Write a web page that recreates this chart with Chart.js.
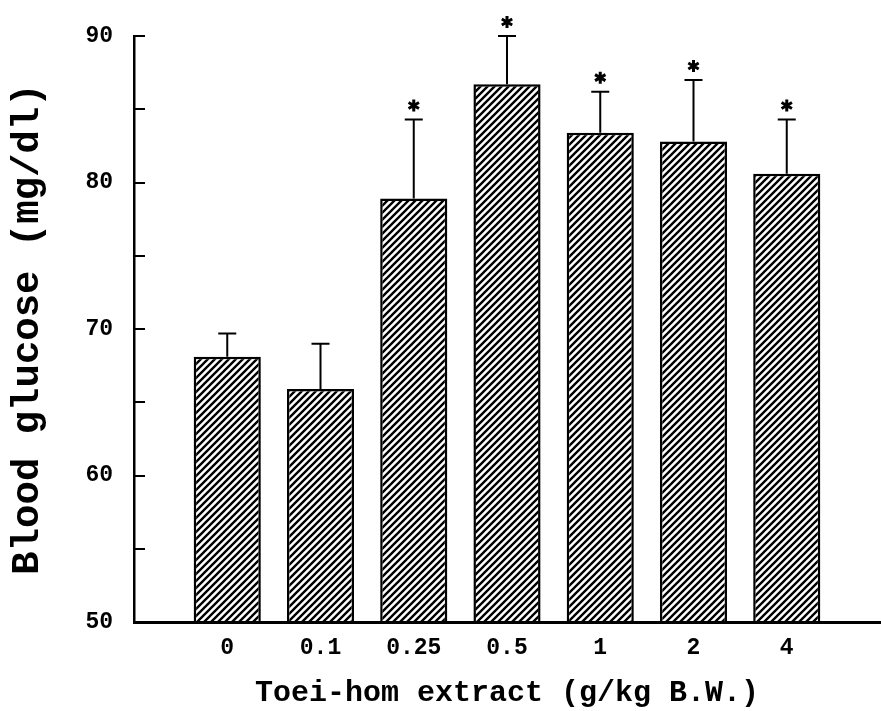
<!DOCTYPE html>
<html>
<head>
<meta charset="utf-8">
<script src="https://cdn.jsdelivr.net/npm/chart.js@4/dist/chart.umd.min.js"></script>
<style>
  html, body { margin: 0; padding: 0; background: #fff; }
  #wrap { width: 881px; height: 711px; }
</style>
</head>
<body>
<div id="wrap"><canvas id="glucose-chart" width="881" height="711"></canvas></div>
<script>
'use strict';

var doses = ['0', '0.1', '0.25', '0.5', '1', '2', '4'];
var glucose = [68.1, 65.9, 78.9, 86.7, 83.4, 82.8, 80.6];
var sem = [1.6, 3.1, 5.4, 3.3, 2.8, 4.2, 3.7];
var marks = ['', '', '*', '*', '*', '*', '*'];
var yMin = 50, yMax = 90;

var MONO = '"Liberation Mono", "DejaVu Sans Mono", monospace';

var hatch = (function() {
    var c = document.createElement('canvas');
    c.width = 7; c.height = 7;
    var g = c.getContext('2d');
    g.fillStyle = '#fff';
    g.fillRect(0, 0, 7, 7);
    g.strokeStyle = '#000';
    g.lineWidth = 2.4;
    g.beginPath();
    g.moveTo(-1, 8); g.lineTo(8, -1);
    g.moveTo(-1, 1); g.lineTo(1, -1);
    g.moveTo(6, 8); g.lineTo(8, 6);
    g.stroke();
    return g.createPattern(c, 'repeat');
})();

function $each(arr, fn) {
    for (var i = 0; i < arr.length; i++) fn(i, arr[i]);
}

// error bars (upper half only) with asterisks above
var errorBars = {
    id: 'errorBars',
    afterDatasetsDraw: function(chart) {
        var ctx = chart.ctx;
        var xs = chart.scales.x, ys = chart.scales.y;
        ctx.save();
        ctx.strokeStyle = '#000';
        ctx.lineWidth = 2;
        $each(glucose, function(i, v) {
            var x = xs.getPixelForValue(i);
            var y0 = ys.getPixelForValue(v);
            var y1 = ys.getPixelForValue(v + sem[i]);
            ctx.beginPath();
            ctx.moveTo(x, y0); ctx.lineTo(x, y1);
            ctx.moveTo(x - 9, y1); ctx.lineTo(x + 9, y1);
            ctx.stroke();
            if (marks[i] == '*') {
                var cy = y1 - 14;
                ctx.save();
                ctx.lineWidth = 3;
                ctx.beginPath();
                for (var k = 0; k < 3; k++) {
                    var a = Math.PI / 2 + k * Math.PI / 3;
                    ctx.moveTo(x + 6 * Math.cos(a), cy + 6 * Math.sin(a));
                    ctx.lineTo(x - 6 * Math.cos(a), cy - 6 * Math.sin(a));
                }
                ctx.stroke();
                ctx.restore();
            }
        });
        ctx.restore();
    }
};

var ctx = document.getElementById('glucose-chart').getContext('2d');
var chart = new Chart(ctx, {
    type: 'bar',
    data: {
        datasets: [{
            data: glucose.map(function(v, i) { return {x: i, y: v}; }),
            base: yMin,
            backgroundColor: hatch,
            borderColor: '#000',
            borderWidth: 2.5,
            borderSkipped: 'bottom',
            barPercentage: 0.72,
            categoryPercentage: 1.0
        }]
    },
    options: {
        responsive: false,
        animation: false,
        layout: { padding: { top: 36, right: 1, left: 0, bottom: 0 } },
        plugins: { legend: { display: false }, tooltip: { enabled: false } },
        scales: {
            x: {
                type: 'linear',
                offset: false,
                min: -1,
                max: 7,
                afterFit: function(s) {
                    s.height = 89;
                    s.paddingLeft = 0;
                    s.paddingRight = 0;
                },
                grid: { display: false, drawTicks: false },
                border: { display: true, color: '#000', width: 3 },
                ticks: {
                    stepSize: 1,
                    padding: 12,
                    color: '#000',
                    font: { family: MONO, size: 23, weight: 'bold' },
                    callback: function(v) { return doses[v] !== undefined ? doses[v] : ''; }
                },
                title: {
                    display: true,
                    text: 'Toei-hom extract (g/kg B.W.)',
                    color: '#000',
                    font: { family: MONO, size: 30, weight: 'bold' },
                    padding: { top: 1, bottom: 0 }
                }
            },
            y: {
                min: yMin,
                max: yMax,
                afterFit: function(s) {
                    s.width = 134;
                    s.paddingTop = 0;
                    s.paddingBottom = 0;
                },
                grid: { drawOnChartArea: false, drawTicks: true, tickLength: -11, color: '#000', lineWidth: 2 },
                border: { display: true, color: '#000', width: 2.5 },
                ticks: {
                    stepSize: 5,
                    padding: 32,
                    color: '#000',
                    font: { family: MONO, size: 23, weight: 'bold' },
                    callback: function(v) { return v % 10 == 0 ? String(v) : ''; }
                },
                title: {
                    display: true,
                    text: 'Blood glucose (mg/dl)',
                    color: '#000',
                    font: { family: MONO, size: 39, weight: 'bold' },
                    padding: { top: 5, bottom: 0 }
                }
            }
        }
    },
    plugins: [errorBars]
});
</script>
</body>
</html>
